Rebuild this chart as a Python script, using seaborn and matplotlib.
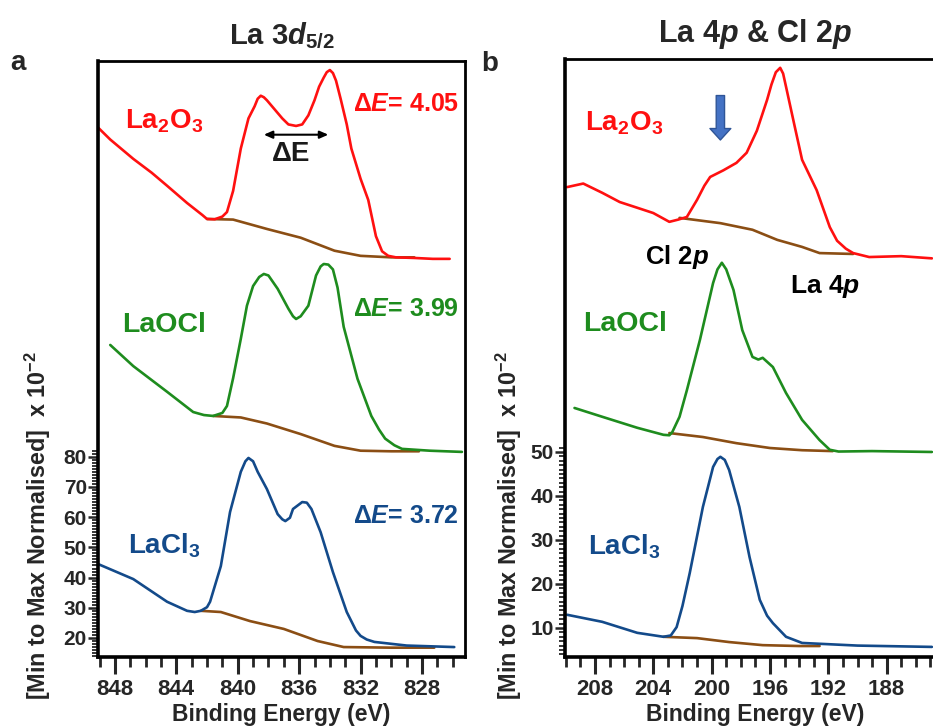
import matplotlib
matplotlib.use("Agg")
import matplotlib.pyplot as plt
import seaborn as sns
import numpy as np
from matplotlib.ticker import FixedLocator, MultipleLocator

# ---- panel a : La 3d5/2 ----
a_la2o3_e = [849.1, 848.3, 846.8, 845.6, 844.6, 843.3, 842.3, 842.0, 841.5, 841.0, 840.7, 840.3, 839.8,
             839.3, 838.9, 838.7, 838.5, 838.3, 838.1, 837.6, 837.1, 836.7, 836.2, 835.8, 835.4, 835.0,
             834.7, 834.4, 834.2, 834.0, 833.8, 833.6, 833.3, 832.9, 832.6, 832.0, 831.5, 831.0,
             830.6, 830.2, 829.7, 828.5, 827.3, 826.2]
a_la2o3_i = [189, 185, 178.6, 174, 169.7, 164, 160, 158.7, 158.6, 159.5, 161, 168, 182,
             192, 196, 198.5, 199.5, 199, 198, 195, 192, 190, 189.5, 190, 193, 198,
             202.5, 205.5, 207.3, 208, 207, 204.5, 198.5, 190, 182, 172, 165, 153,
             148, 146.5, 146, 145.8, 145.5, 145.5]
a_la2o3_bg_e = [842.0, 840.3, 838.1, 835.9, 833.7, 832.0, 830.0, 828.5]
a_la2o3_bg_i = [158.7, 158.5, 155.4, 152.5, 148.2, 146.5, 146.0, 146.0]

a_laocl_e = [848.3, 846.8, 844.6, 842.9, 842.2, 841.6, 841.0, 840.7, 840.3, 839.8, 839.4, 839.0, 838.6,
             838.3, 838.0, 837.4, 836.7, 836.4, 836.2, 835.9, 835.4, 834.9, 834.6, 834.4, 834.1,
             833.8, 833.5, 833.1, 832.2, 831.3, 830.8, 830.4, 829.8, 829.3, 827.5, 825.4]
a_laocl_i = [117, 110, 101.5, 94.8, 93.8, 93.5, 94.5, 96.8, 106, 119, 130, 136.5, 139.5,
             140.5, 140, 135.6, 129, 126.5, 125.6, 126.5, 130, 140, 143, 143.8, 143.6,
             142, 136, 123, 105.8, 93.5, 89, 86, 83.8, 82.6, 82, 81.6]
a_laocl_bg_e = [841.6, 839.8, 838.1, 835.9, 833.7, 832.0, 830.0, 828.2]
a_laocl_bg_i = [93.5, 93, 91, 87.5, 83.6, 82, 81.8, 81.8]

a_lacl3_e = [849.1, 846.8, 844.6, 843.3, 842.8, 842.4, 842.0, 841.8, 841.1, 840.5, 839.8, 839.5, 839.3,
             839.0, 838.7, 838.1, 837.4, 837.1, 836.9, 836.6, 836.4, 835.8, 835.5, 835.2, 834.6,
             833.8, 832.9, 832.3, 832.0, 831.6, 831.1, 829.0, 825.9]
a_lacl3_i = [44.5, 39.5, 32, 29, 28.6, 29, 30.2, 32, 43.8, 61.7, 75, 78.5, 79.6,
             78.5, 75, 69.3, 61, 59.3, 58.7, 59.8, 62.7, 65, 64.8, 62.7, 55,
             41.8, 28.6, 22.5, 20.7, 19.5, 18.7, 17.5, 17]
a_lacl3_bg_e = [842.4, 841.1, 839.2, 837.0, 834.8, 833.1, 830.0, 827.2]
a_lacl3_bg_i = [29, 28.6, 25.6, 23, 19, 17, 16.8, 16.8]

# ---- panel b : La 4p & Cl 2p ----
b_la2o3_e = [209.9, 208.8, 207.5, 206.3, 205.1, 204.0, 202.9, 202.3, 201.7, 201.0, 200.5, 200.1, 199.2,
             198.3, 197.6, 196.9, 196.2, 195.9, 195.6, 195.3, 195.1, 194.9, 194.3, 193.8, 192.8,
             191.9, 191.4, 190.8, 190.3, 189.2, 187.0, 184.9]
b_la2o3_i = [110.2, 111, 108.9, 106.8, 105.5, 104.3, 102.3, 102.8, 103.4, 107.3, 110.5, 112.5, 114,
             115.7, 118, 123, 130, 133.5, 136.3, 137.3, 136, 133, 123.9, 116.4, 109.5,
             101.1, 98, 96.2, 95.2, 94.3, 94.5, 94]
b_la2o3_bg_e = [202.2, 199.4, 197.2, 195.5, 193.8, 192.6, 190.3]
b_la2o3_bg_i = [103.2, 102, 100.5, 98.2, 96.6, 95.2, 95]

b_laocl_e = [209.4, 207.5, 205.1, 203.3, 202.9, 202.7, 202.2, 201.7, 200.8, 199.9, 199.6, 199.3, 199.0,
             198.5, 197.9, 197.2, 196.8, 196.5, 195.8, 194.9, 193.8, 192.6, 191.9, 191.3, 189.0, 184.9]
b_laocl_i = [60, 58, 55.5, 53.9, 53.8, 54.5, 58, 64, 75.5, 88.4, 91.5, 93, 91.5,
             86.8, 77.7, 71.6, 71.0, 71.4, 69.3, 63.4, 57.3, 52.7, 50.5, 50.1, 50.2, 50]
b_laocl_bg_e = [202.9, 200.6, 198.3, 196.0, 193.8, 191.7]
b_laocl_bg_i = [54.3, 53.4, 52, 50.9, 50.4, 50.2]

b_lacl3_e = [209.9, 207.5, 205.1, 203.3, 202.8, 202.4, 202.0, 201.5, 200.6, 199.9, 199.6, 199.4, 199.1,
             198.8, 198.1, 197.4, 196.7, 196.2, 195.8, 194.9, 193.8, 190.0, 184.9]
b_lacl3_i = [13, 11.4, 8.9, 8, 8.3, 10.2, 15, 22.5, 37.5, 46.6, 48.4, 48.9, 48.2,
             45.9, 37.5, 26.1, 16.4, 12.8, 11.1, 8, 6.6, 6.0, 5.7]
b_lacl3_bg_e = [203.3, 201.0, 198.8, 196.5, 194.0, 192.6]
b_lacl3_bg_i = [8, 7.7, 6.8, 6.1, 5.9, 5.9]

RED = "#FF1010"
GREEN = "#1E8C1E"
BLUE = "#134A8A"
BROWN = "#8B4E14"

sns.set_style("white")
plt.rcParams["font.family"] = ["Liberation Sans", "DejaVu Sans"]
plt.rcParams["font.weight"] = "bold"
plt.rcParams["mathtext.fontset"] = "custom"
plt.rcParams["mathtext.rm"] = "Liberation Sans:bold"
plt.rcParams["mathtext.bf"] = "Liberation Sans:bold"
plt.rcParams["mathtext.it"] = "Liberation Sans:bold:italic"
plt.rcParams["mathtext.sf"] = "Liberation Sans:bold"

fig = plt.figure(figsize=(9.33, 7.26), dpi=100)
ax_a = fig.add_axes([0.105, 0.095, 0.3934, 0.821])
ax_b = fig.add_axes([0.6056, 0.095, 0.4073, 0.8237])

LW = 1.9


def draw(ax, e, i, color):
    sns.lineplot(x=e, y=i, ax=ax, color=color, lw=LW, estimator=None)


for ax, sets in [
    (ax_a, [(a_la2o3_bg_e, a_la2o3_bg_i, BROWN), (a_la2o3_e, a_la2o3_i, RED),
            (a_laocl_bg_e, a_laocl_bg_i, BROWN), (a_laocl_e, a_laocl_i, GREEN),
            (a_lacl3_bg_e, a_lacl3_bg_i, BROWN), (a_lacl3_e, a_lacl3_i, BLUE)]),
    (ax_b, [(b_la2o3_bg_e, b_la2o3_bg_i, BROWN), (b_la2o3_e, b_la2o3_i, RED),
            (b_laocl_bg_e, b_laocl_bg_i, BROWN), (b_laocl_e, b_laocl_i, GREEN),
            (b_lacl3_bg_e, b_lacl3_bg_i, BROWN), (b_lacl3_e, b_lacl3_i, BLUE)]),
]:
    for e, i, c in sets:
        draw(ax, e, i, c)

ax_a.set_xlim(849.1, 825.2)
ax_a.set_ylim(13.7, 211)
ax_b.set_xlim(210.05, 184.0)
ax_b.set_ylim(3.4, 139.3)

ax_a.set_xticks([848, 844, 840, 836, 832, 828])
ax_a.xaxis.set_minor_locator(MultipleLocator(1))
ax_a.set_yticks([20, 30, 40, 50, 60, 70, 80])
ax_a.yaxis.set_minor_locator(FixedLocator(np.arange(14, 83, 1)))

ax_b.set_xticks([208, 204, 200, 196, 192, 188])
ax_b.xaxis.set_minor_locator(MultipleLocator(1))
ax_b.set_yticks([10, 20, 30, 40, 50])
ax_b.yaxis.set_minor_locator(FixedLocator(np.arange(4, 52, 1)))

for ax in (ax_a, ax_b):
    for side in ("top", "right"):
        ax.spines[side].set_linewidth(2.0)
        ax.spines[side].set_color("black")
    for side in ("left", "bottom"):
        ax.spines[side].set_linewidth(2.6)
        ax.spines[side].set_color("black")
    ax.tick_params(axis="x", which="major", direction="out", length=12, width=2.2,
                   labelsize=16, pad=4, bottom=True)
    ax.tick_params(axis="x", which="minor", direction="out", length=7, width=2.0, bottom=True)
    ax.tick_params(axis="y", which="major", direction="out", length=7, width=1.8,
                   labelsize=15, pad=1, left=True)
    ax.tick_params(axis="y", which="minor", direction="out", length=4, width=1.3, left=True)
    ax.set_xlabel("Binding Energy (eV)", fontsize=16.5, fontweight="bold", labelpad=2)
    ax.set_ylabel("")
    ax.grid(False)

ylab = r"[Min to Max Normalised]  x 10$^{-2}$"
fig.text(0.041, 0.276, ylab, rotation=90, ha="center", va="center", fontsize=16.8)
fig.text(0.545, 0.276, ylab, rotation=90, ha="center", va="center", fontsize=16.8)

ax_a.set_title(r"La 3$d_{5/2}$", fontsize=21, fontweight="bold", pad=12)
ax_b.set_title(r"La 4$p$ & Cl 2$p$", fontsize=22, fontweight="bold", pad=12)
fig.text(0.019, 0.913, "a", fontsize=20, ha="center", va="center")
fig.text(0.525, 0.912, "b", fontsize=20, ha="center", va="center")

# panel a annotations
ax_a.text(847.35, 191, r"La$_2$O$_3$", color=RED, fontsize=20, ha="left", va="center")
ax_a.text(832.5, 196.8, r"Δ$E$= 4.05", color=RED, fontsize=18, ha="left", va="center")
ax_a.text(847.5, 123.6, "LaOCl", color=GREEN, fontsize=20.5, ha="left", va="center")
ax_a.text(832.5, 128.9, r"Δ$E$= 3.99", color=GREEN, fontsize=18, ha="left", va="center")
ax_a.text(847.15, 50.5, r"LaCl$_3$", color=BLUE, fontsize=20, ha="left", va="center")
ax_a.text(832.5, 60.4, r"Δ$E$= 3.72", color=BLUE, fontsize=18, ha="left", va="center")
ax_a.annotate("", xy=(834.1, 186.6), xytext=(838.3, 186.6),
              arrowprops=dict(arrowstyle="<|-|>,head_length=0.5,head_width=0.22",
                              color="black", lw=1.5, shrinkA=0, shrinkB=0))
ax_a.text(836.5, 180.3, "ΔE", color="#1a1a1a", fontsize=20, ha="center", va="center")

# panel b annotations
ax_b.text(208.68, 124.8, r"La$_2$O$_3$", color=RED, fontsize=20, ha="left", va="center")
ax_b.text(204.58, 94.3, r"Cl 2$p$", color="black", fontsize=18.5, ha="left", va="center")
ax_b.text(194.64, 87.5, r"La 4$p$", color="black", fontsize=19, ha="left", va="center")
ax_b.text(208.82, 79.1, "LaOCl", color=GREEN, fontsize=20.5, ha="left", va="center")
ax_b.text(208.48, 28.4, r"LaCl$_3$", color=BLUE, fontsize=20, ha="left", va="center")
ax_b.annotate("", xy=(199.4, 120.9), xytext=(199.4, 131.0),
              arrowprops=dict(arrowstyle="simple,head_width=1.0,head_length=0.55,tail_width=0.4",
                              fc="#4472C4", ec="#2F5597", lw=1.0, mutation_scale=15,
                              shrinkA=0, shrinkB=0))

fig.savefig("out.png", dpi=100)
